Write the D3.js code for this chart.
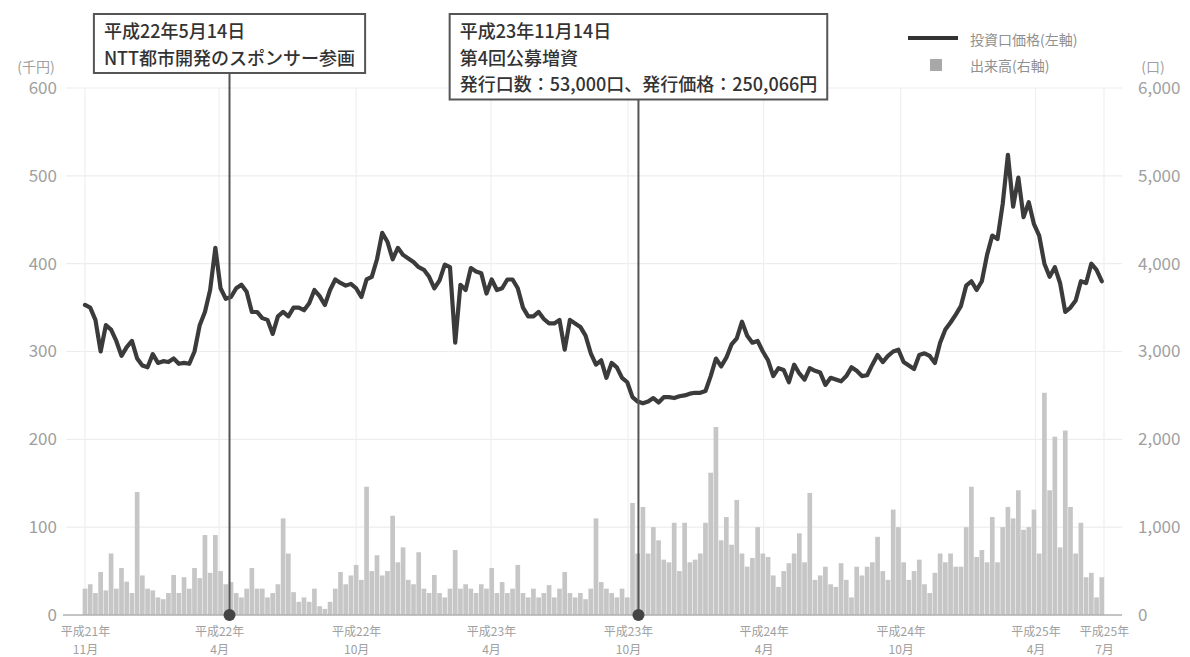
<!DOCTYPE html>
<html><head><meta charset="utf-8">
<script src="https://cdn.jsdelivr.net/npm/d3@7"></script>
<style>
body{margin:0;background:#fff;}
svg{display:block;font-family:"Noto Sans CJK JP","Noto Sans",sans-serif;}
</style>
</head><body>
<svg id="c" width="1190" height="657"></svg>
<script>
// ---- data ----
const startDate = "2009-11-01";
const endDate = "2013-07-31";
// weekly price of the unit (thousand yen), one value per week from startDate
const priceValues = [
353,350,336,300,330,325,312,295,305,312,
292,284,282,297,287,289,288,292,286,287,
286,300,330,345,370,418,372,360,362,372,
376,368,345,345,338,336,320,340,345,340,
350,350,347,355,370,363,353,370,382,378,
375,377,372,362,382,385,405,435,425,405,
418,410,406,402,396,393,385,372,381,399,
396,310,376,370,395,391,389,366,382,370,
372,382,382,372,350,340,340,345,337,332,
332,336,302,336,332,328,318,298,285,290,
270,287,282,270,265,248,243,241,243,247,
242,248,248,247,249,250,252,253,253,255,
272,292,283,293,308,315,334,318,310,312,
300,290,272,281,279,265,285,275,268,281,
278,276,262,270,268,266,272,282,278,272,
273,285,296,288,295,300,302,288,284,280,
296,298,295,287,310,325,333,342,352,375,
380,370,380,410,432,428,468,524,465,498,
453,470,445,432,400,385,396,378,345,350,
358,380,378,400,393,380
];
// weekly trading volume (units)
const volumeValues = [
300,350,250,490,280,700,300,535,380,250,
1400,450,300,280,200,180,250,455,250,430,
300,535,420,910,480,910,500,350,375,250,
200,300,535,300,300,200,250,350,1100,700,
260,150,200,150,300,100,70,150,300,490,
350,450,570,400,1460,500,680,450,500,1130,
600,770,400,350,715,300,250,455,250,200,
300,740,300,350,300,250,350,300,535,250,
375,250,300,570,250,200,300,200,250,340,
200,300,490,250,200,250,180,300,1100,375,
300,250,200,300,200,1275,700,1230,700,1000,
850,630,600,1050,500,1050,600,630,700,1050,
1620,2140,850,1115,800,1310,700,550,650,1000,
700,660,450,320,500,590,700,930,600,1390,
400,450,550,350,320,590,400,200,550,450,
550,600,890,500,400,1200,1000,600,400,500,
630,350,250,480,700,600,700,550,550,1000,
1460,660,740,600,1115,600,1000,1230,1100,1420,
970,1000,1200,700,2530,1420,2030,770,2100,1230,
700,1050,430,480,200,430
];
const xTickDates = ["2009-11-01","2010-04-30","2010-10-31","2011-04-30","2011-10-31","2012-04-30","2012-10-31","2013-04-30","2013-07-31"];
const xTickLabels = [
  ["平成21年","11月"],["平成22年","4月"],["平成22年","10月"],["平成23年","4月"],
  ["平成23年","10月"],["平成24年","4月"],["平成24年","10月"],["平成25年","4月"],["平成25年","7月"]
];
const priceTicks = [0,100,200,300,400,500,600];
const volumeTicks = [0,1000,2000,3000,4000,5000,6000];
const priceUnit = "(千円)";
const volumeUnit = "(口)";
const annotationDates = ["2010-05-14","2011-11-14"];
const annotationTexts = [
  ["平成22年5月14日","NTT都市開発のスポンサー参画"],
  ["平成23年11月14日","第4回公募増資","発行口数：53,000口、発行価格：250,066円"]
];
const legendLabels = ["投資口価格(左軸)","出来高(右軸)"];

// ---- drawing ----
(function(){
const parse = d3.utcParse("%Y-%m-%d");
const t0 = parse(startDate), t1 = parse(endDate);
const weekDates = priceValues.map((_, i) => d3.utcDay.offset(t0, 7 * i));

const svg = d3.select("#c");
const pLeft = 85, pRight = 1104, pTop = 88, pBottom = 615;
const x = d3.scaleUtc().domain([t0, t1]).range([pLeft, pRight]);
const yL = d3.scaleLinear().domain([0, 600]).range([pBottom, pTop]);
const yR = d3.scaleLinear().domain([0, 6000]).range([pBottom, pTop]);

// grid
const grid = svg.append("g");
grid.selectAll("line.h").data(priceTicks.slice(1)).join("line").attr("class","h")
  .attr("x1", 66).attr("x2", 1122)
  .attr("y1", d => yL(d)).attr("y2", d => yL(d))
  .attr("stroke", "#ededed").attr("stroke-width", 1.2);
grid.selectAll("line.v").data(xTickDates).join("line").attr("class","v")
  .attr("x1", d => x(parse(d))).attr("x2", d => x(parse(d)))
  .attr("y1", pTop).attr("y2", pBottom)
  .attr("stroke", "#efefef").attr("stroke-width", 1.2);

// volume bars
const bw = (x(weekDates[1]) - x(weekDates[0]));
svg.append("g").selectAll("rect").data(volumeValues).join("rect")
  .attr("x", (d, i) => x(weekDates[i]) - bw * 0.45)
  .attr("width", bw * 0.9)
  .attr("y", d => yR(d))
  .attr("height", d => pBottom - yR(d))
  .attr("fill", "#c6c6c6");

// baseline
svg.append("line").attr("x1", 63).attr("x2", 1122).attr("y1", pBottom).attr("y2", pBottom)
  .attr("stroke", "#b0b0b0").attr("stroke-width", 1.5);

// price line
const line = d3.line().x((d, i) => x(weekDates[i])).y(d => yL(d));
svg.append("path").datum(priceValues).attr("d", line)
  .attr("fill", "none").attr("stroke", "#3b3b3b").attr("stroke-width", 4.2)
  .attr("stroke-linejoin", "round").attr("stroke-linecap", "round");

// left axis
const gl = svg.append("g").attr("transform", "translate(57,0)")
  .call(d3.axisLeft(yL).tickValues(priceTicks).tickSize(0).tickPadding(0));
gl.select(".domain").remove();
gl.selectAll("text").attr("font-size", 17).attr("fill", "#a0a0a0").attr("font-family", "'Noto Sans CJK JP',sans-serif");

// right axis
const gr = svg.append("g").attr("transform", "translate(1138,0)")
  .call(d3.axisRight(yR).tickValues(volumeTicks).tickFormat(d3.format(",")).tickSize(0).tickPadding(0));
gr.select(".domain").remove();
gr.selectAll("text").attr("font-size", 17).attr("fill", "#a0a0a0").attr("font-family", "'Noto Sans CJK JP',sans-serif");

// units
svg.append("text").attr("x", 36).attr("y", 66).attr("text-anchor", "middle").attr("dominant-baseline", "central")
  .attr("font-size", 14).attr("fill", "#a0a0a0").text(priceUnit);
svg.append("text").attr("x", 1153).attr("y", 66).attr("text-anchor", "middle").attr("dominant-baseline", "central")
  .attr("font-size", 14).attr("fill", "#a0a0a0").text(volumeUnit);

// x axis labels (two separate text lines per tick)
const gx = svg.append("g").attr("transform", `translate(0,${pBottom})`)
  .call(d3.axisBottom(x).tickValues(xTickDates.map(parse)).tickSize(0).tickFormat(""));
gx.select(".domain").remove();
gx.selectAll(".tick").each(function(d, i) {
  const g = d3.select(this);
  g.select("text").remove();
  xTickLabels[i].forEach((s, j) => {
    g.append("text").attr("text-anchor", "middle").attr("fill", "#a0a0a0")
      .attr("font-size", 12).attr("font-family", "'Noto Sans CJK JP',sans-serif")
      .attr("x", 0).attr("y", 21 + j * 17.5).text(s);
  });
});

// annotations
const ann = svg.append("g");
annotationDates.forEach((ds, k) => {
  const ax = x(parse(ds));
  const lines = annotationTexts[k];
  const g = ann.append("g");
  const txt = g.append("text").attr("font-size", 18).attr("fill", "#333").attr("font-weight", 500);
  lines.forEach((s, j) => txt.append("tspan").attr("x", 0).attr("y", 38 + j * 26.5).text(s));
  const w = txt.node().getBBox().width + 20;
  const bx = ax - w / 2;
  const bh = lines.length * 26.5 + 6;
  txt.attr("transform", `translate(${bx + 10},0)`);
  g.insert("rect", "text").attr("x", bx).attr("y", 14).attr("width", w).attr("height", bh)
    .attr("fill", "#fff").attr("stroke", "#555").attr("stroke-width", 2);
  g.append("line").attr("x1", ax).attr("x2", ax).attr("y1", 14 + bh).attr("y2", pBottom)
    .attr("stroke", "#555").attr("stroke-width", 2);
  g.append("circle").attr("cx", ax).attr("cy", pBottom).attr("r", 6).attr("fill", "#444");
});

// legend
const lg = svg.append("g");
lg.append("line").attr("x1", 908).attr("x2", 958).attr("y1", 38).attr("y2", 38)
  .attr("stroke", "#333").attr("stroke-width", 4);
lg.append("rect").attr("x", 930).attr("y", 59).attr("width", 12).attr("height", 12).attr("fill", "#a8a8a8");
lg.selectAll("text").data(legendLabels).join("text")
  .attr("x", 970).attr("y", (d, i) => 39 + i * 26).attr("dominant-baseline", "central")
  .attr("font-size", 14).attr("fill", "#909090").text(d => d);
})();
</script>
</body></html>
